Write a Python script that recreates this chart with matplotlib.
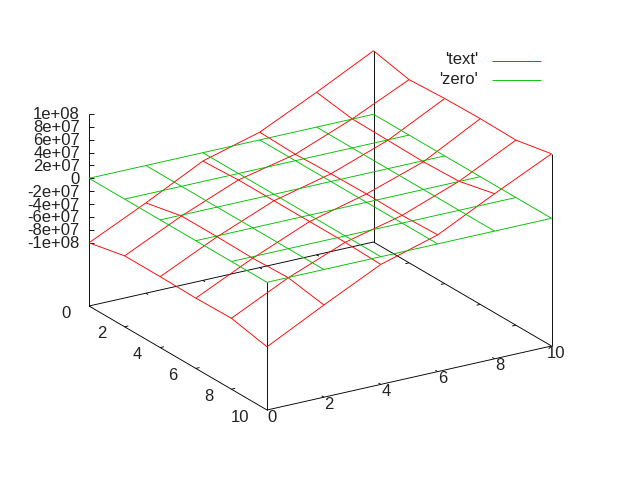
#!/usr/bin/env python3
"""Gnuplot style splot: a wavy red surface and a flat green plane."""

import matplotlib
matplotlib.use('Agg')

import matplotlib.pyplot as plt
import numpy as np

plt.rcParams['font.family'] = ['Liberation Sans', 'DejaVu Sans']

# grid and values, z is in units of 1e8
grid_x = [0, 2, 4, 6, 8, 10]
grid_y = [0, 2, 4, 6, 8, 10]
# rows are y, columns are x
text_z = [
    [-1.00, -0.58, -0.13, 0.12, 0.54, 0.985],
    [-0.88, -0.46, -0.10, 0.10, 0.45, 0.86],
    [-0.88, -0.46, -0.10, 0.12, 0.44, 0.89],
    [-0.89, -0.47, -0.10, 0.13, 0.43, 0.90],
    [-0.88, -0.45, -0.10, 0.12, 0.45, 0.89],
    [-1.00, -0.55, -0.12, 0.14, 0.58, 1.00],
]
zero_z = [[0.0] * 6 for _ in grid_y]

x_ticks = [0, 2, 4, 6, 8, 10]
y_ticks = [0, 2, 4, 6, 8, 10]
z_ticks = [1, 0.8, 0.6, 0.4, 0.2, 0, -0.2, -0.4, -0.6, -0.8, -1]
z_tick_labels = ['1e+08', '8e+07', '6e+07', '4e+07', '2e+07', '0',
                 '-2e+07', '-4e+07', '-6e+07', '-8e+07', '-1e+08']
series_names = ["'text'", "'zero'"]

RED = '#ff0000'
GREEN = '#00c000'
TEXT = '#222222'

# where the box sits on the canvas (pixels)
ORIGIN = np.array([89.0, 306.0])
X_STEP = np.array([28.45, -6.4])
Y_STEP = np.array([17.8, 10.4])
Z_UNIT = 64.5
Z_MID = 127.7


def project(x, y, z):
    """Data coordinates to canvas pixels, fixed 60/30 style view."""
    x, y, z = np.asarray(x, float), np.asarray(y, float), np.asarray(z, float)
    px = ORIGIN[0] + x * X_STEP[0] + y * Y_STEP[0]
    py = ORIGIN[1] + x * X_STEP[1] + y * Y_STEP[1] - (Z_MID + z * Z_UNIT)
    return px, py


def base(x, y):
    """Point on the floor of the box, below the lowest z."""
    px = ORIGIN[0] + x * X_STEP[0] + y * Y_STEP[0]
    py = ORIGIN[1] + x * X_STEP[1] + y * Y_STEP[1]
    return np.array([px, py])


def thin(ax, xs, ys, color='black', z=2):
    ax.plot(xs, ys, color=color, lw=0.65, solid_capstyle='butt', zorder=z)


def draw_mesh(ax, values, color):
    values = np.array(values)
    gx, gy = np.meshgrid(grid_x, grid_y)
    px, py = project(gx, gy, values)
    for i in range(len(grid_y)):
        thin(ax, px[i, :], py[i, :], color, 3)
    for j in range(len(grid_x)):
        thin(ax, px[:, j], py[:, j], color, 3)


def draw_box(ax):
    corners = np.array([base(0, 0), base(0, 10), base(10, 10), base(10, 0), base(0, 0)])
    thin(ax, corners[:, 0], corners[:, 1])

    # vertical edges, each one stops at what it meets
    for x, y, top in [(0, 0, 1.0), (0, 10, 0.0), (10, 10, 1.0), (10, 0, 0.985)]:
        px, py = project(x, y, top)
        b = base(x, y)
        thin(ax, [b[0], px], [b[1], py])

    for z in z_ticks:
        px, py = project(0, 0, z)
        thin(ax, [px, px + 5], [py, py])

    tick = 0.13
    for x in x_ticks[1:-1]:
        for y0, sign in [(10, -1), (0, 1)]:
            p, q = base(x, y0), base(x, y0 + sign * tick)
            thin(ax, [p[0], q[0]], [p[1], q[1]])
    for y in y_ticks[1:-1]:
        for x0, sign in [(0, 1), (10, -1)]:
            p, q = base(x0, y), base(x0 + sign * tick, y)
            thin(ax, [p[0], q[0]], [p[1], q[1]])


def draw_labels(ax):
    for z, label in zip(z_ticks, z_tick_labels):
        px, py = project(0, 0, z)
        ax.text(px - 9, py + 1, label, ha='right', va='center', fontsize=12, color=TEXT)
    for y in y_ticks:
        p = base(0, y)
        ax.text(p[0] - 18, p[1] + 7, str(y), ha='right', va='center', fontsize=12, color=TEXT)
    for x in x_ticks:
        p = base(x, 10)
        ax.text(p[0] + 5, p[1] + 7, str(x), ha='center', va='center', fontsize=12, color=TEXT)


def draw_legend(ax):
    for name, color, text_y, line_y in zip(series_names, [RED, GREEN], [60, 79.5], [61, 80]):
        ax.text(478, text_y, name, ha='right', va='center', fontsize=12, color=TEXT)
        thin(ax, [492, 541], [line_y, line_y], color, 3)


def main():
    fig = plt.figure(figsize=(6.4, 4.8), dpi=100)
    ax = fig.add_axes([0, 0, 1, 1])
    ax.set_xlim(0, 640)
    ax.set_ylim(480, 0)
    ax.axis('off')

    draw_box(ax)
    draw_mesh(ax, text_z, RED)
    draw_mesh(ax, zero_z, GREEN)
    draw_labels(ax)
    draw_legend(ax)

    fig.savefig('out.png', dpi=100)


if __name__ == "__main__":
    main()
